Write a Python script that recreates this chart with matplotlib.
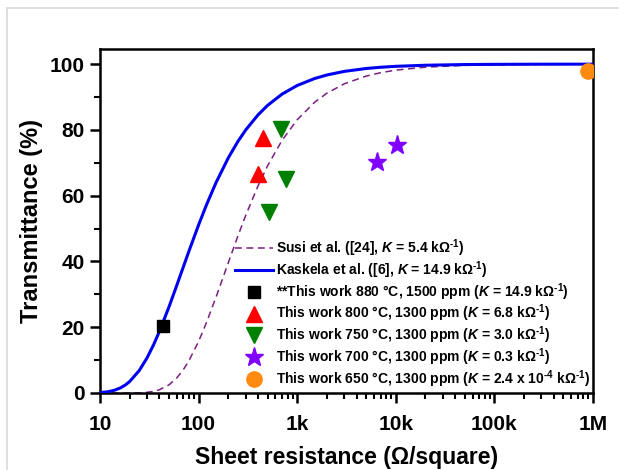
import matplotlib
matplotlib.use("Agg")
import matplotlib.pyplot as plt
from matplotlib.lines import Line2D
from matplotlib.ticker import FixedLocator, LogLocator, NullFormatter

plt.rcParams['font.family'] = ['Liberation Sans', 'DejaVu Sans']
plt.rcParams['font.weight'] = 'bold'
plt.rcParams['mathtext.fontset'] = 'custom'
plt.rcParams['mathtext.rm'] = 'Liberation Sans:bold'
plt.rcParams['mathtext.bf'] = 'Liberation Sans:bold'
plt.rcParams['mathtext.it'] = 'Liberation Sans:italic:bold'

# Sheet resistance grid (Ohm/sq) for model curves, with transmittance (%)
rs_curve = [10, 12, 14, 16, 18, 20, 25, 30, 35, 40, 50, 60, 70, 80, 100, 120, 150, 200,
            250, 300, 400, 500, 700, 1000, 1500, 2000, 3000, 5000, 7000, 1e4, 2e4, 5e4,
            1e5, 3e5, 1e6]
t_kaskela = [0.12, 0.37, 0.83, 1.51, 2.40, 3.49, 6.83, 10.68, 14.70, 18.68, 26.13, 32.68,
             38.34, 43.22, 51.11, 57.16, 63.93, 71.49, 76.46, 79.96, 84.55, 87.44, 90.86,
             93.51, 95.62, 96.70, 97.79, 98.67, 99.05, 99.33, 99.66, 99.87, 99.93, 99.98, 99.99]
t_susi = [0.0, 0.0, 0.0, 0.0, 0.0, 0.01, 0.06, 0.21, 0.50, 0.98, 2.46, 4.57, 7.10, 9.88,
          15.69, 21.37, 29.09, 39.62, 47.68, 53.94, 62.94, 69.05, 76.76, 83.09, 88.39,
          91.16, 94.01, 96.36, 97.39, 98.17, 99.08, 99.63, 99.81, 99.94, 99.98]

# Measured samples
rs_880 = [44]
t_880 = [20.5]
rs_800 = [450, 397]
t_800 = [77.5, 66.6]
rs_750 = [685, 770, 521]
t_750 = [80.2, 65.0, 55.1]
rs_700 = [6440, 10280]
t_700 = [70.2, 75.4]
rs_650 = [8.9e5]
t_650 = [97.9]

labels = [
    r"Susi et al. ([24], $K$ = 5.4 k$\Omega^{\text{-1}}$)",
    r"Kaskela et al. ([6], $K$ = 14.9 k$\Omega^{\text{-1}}$)",
    r"**This work 880 °C, 1500 ppm ($K$ = 14.9 k$\Omega^{\text{-1}}$)",
    r"This work 800 °C, 1300 ppm ($K$ = 6.8 k$\Omega^{\text{-1}}$)",
    r"This work 750 °C, 1300 ppm ($K$ = 3.0 k$\Omega^{\text{-1}}$)",
    r"This work 700 °C, 1300 ppm ($K$ = 0.3 k$\Omega^{\text{-1}}$)",
    r"This work 650 °C, 1300 ppm ($K$ = 2.4 x 10$^{\text{-4}}$ k$\Omega^{\text{-1}}$)",
]
xtick_vals = [10, 100, 1000, 1e4, 1e5, 1e6]
xtick_labels = ['10', '100', '1k', '10k', '100k', '1M']

fig = plt.figure(figsize=(6.19, 4.70), dpi=100)
ax = fig.add_axes([100/619, 1-393/470, 493/619, 344/470])

h1, = ax.plot(rs_curve, t_susi, ls=(0, (4.5, 3)), color='#7A1E82', lw=1.1, zorder=2)
h2, = ax.plot(rs_curve, t_kaskela, color='#0000F0', lw=2.2, zorder=3)
h3, = ax.plot(rs_880, t_880, ls='none', marker='s', color='black', ms=9, zorder=4)
h4, = ax.plot(rs_800, t_800, ls='none', marker='^', color='#FF0000', ms=11.5, zorder=4)
h5, = ax.plot(rs_750, t_750, ls='none', marker='v', color='#008000', ms=11.5, zorder=4)
h6, = ax.plot(rs_700, t_700, ls='none', marker='*', color='#8000FF', ms=14, zorder=4)
h7, = ax.plot(rs_650, t_650, ls='none', marker='o', color='#FF8A10', ms=11, zorder=4)

ax.set_xscale('log')
ax.set_xlim(10, 1e6)
ax.set_ylim(0, 104.6)
ax.xaxis.set_major_locator(FixedLocator(xtick_vals))
ax.set_xticklabels(xtick_labels)
ax.xaxis.set_minor_locator(LogLocator(base=10, subs=range(2, 10), numticks=50))
ax.xaxis.set_minor_formatter(NullFormatter())
ax.set_yticks([0, 20, 40, 60, 80, 100])
ax.set_yticks([10, 30, 50, 70, 90], minor=True)

for s in ax.spines.values():
    s.set_linewidth(1.8)
ax.tick_params(which='major', direction='out', length=7, width=1.8, labelsize=15, pad=4)
ax.tick_params(which='minor', direction='out', length=4, width=1.5)
ax.tick_params(axis='x', which='major', pad=9)
ax.tick_params(top=False, right=False)
for lab in ax.get_xticklabels() + ax.get_yticklabels():
    lab.set_fontweight('bold')

ax.set_xlabel('Sheet resistance (Ω/square)', fontsize=16.5, fontweight='bold', labelpad=8.5)
ax.set_ylabel('Transmittance (%)', fontsize=17, fontweight='bold', labelpad=5)

leg = ax.legend([h1, h2, h3, h4, h5, h6, h7], labels, loc='upper left',
                bbox_to_anchor=(0.262, 0.469), frameon=False, fontsize=10.0,
                handlelength=2.75, handletextpad=0.25, labelspacing=0.02,
                borderaxespad=0, markerscale=1.0)
for t in leg.get_texts():
    t.set_fontweight('bold')

# screenshot border
fig.add_artist(Line2D([7/619, 7/619], [0, 1-8/470], color='#D9D9D9', lw=1.2))
fig.add_artist(Line2D([7/619, 1], [1-8/470, 1-8/470], color='#D9D9D9', lw=1.2))

fig.savefig('out.png', dpi=100)
